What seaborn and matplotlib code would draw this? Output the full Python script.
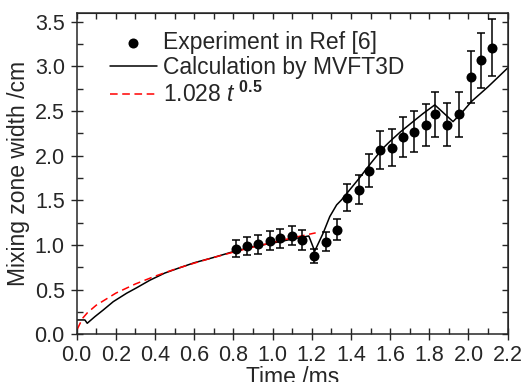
import numpy as np
import pandas as pd
import matplotlib
matplotlib.use("Agg")
import matplotlib.pyplot as plt
from matplotlib.ticker import MultipleLocator
import seaborn as sns

# Experimental data (Ref [6])
exp_t = [0.812, 0.870, 0.927, 0.985, 1.040, 1.099, 1.152, 1.210, 1.273, 1.331, 1.382, 1.441,
         1.491, 1.550, 1.611, 1.664, 1.724, 1.782, 1.831, 1.892, 1.952, 2.011, 2.062, 2.120]
exp_w = [0.955, 0.989, 1.007, 1.049, 1.075, 1.104, 1.056, 0.877, 1.034, 1.172, 1.530, 1.619,
         1.832, 2.060, 2.090, 2.205, 2.269, 2.343, 2.463, 2.347, 2.463, 2.877, 3.067, 3.209]
exp_err = [0.095, 0.100, 0.105, 0.107, 0.107, 0.110, 0.110, 0.080, 0.105, 0.120, 0.155, 0.165,
           0.180, 0.210, 0.210, 0.225, 0.230, 0.235, 0.250, 0.240, 0.250, 0.290, 0.310, 0.320]

# MVFT3D calculation
calc_t = [0.0, 0.042, 0.054, 0.093, 0.136, 0.187, 0.255, 0.306, 0.374, 0.45, 0.52, 0.60, 0.70,
          0.80, 0.90, 1.00, 1.10, 1.185, 1.215, 1.258, 1.292, 1.327, 1.352, 1.38, 1.44, 1.50,
          1.564, 1.60, 1.65, 1.717, 1.768, 1.828, 1.921, 1.964, 2.015, 2.10, 2.20]
calc_w = [0.16, 0.16, 0.123, 0.197, 0.272, 0.365, 0.459, 0.52, 0.605, 0.685, 0.74, 0.80, 0.86,
          0.925, 0.98, 1.02, 1.065, 1.10, 0.93, 1.131, 1.317, 1.448, 1.504, 1.58, 1.74, 1.91,
          2.083, 2.16, 2.26, 2.38, 2.47, 2.567, 2.38, 2.475, 2.605, 2.77, 2.98]

# 1.028 t^0.5 fit
fit_t = [0.003, 0.03, 0.055, 0.1, 0.2, 0.3, 0.4, 0.5, 0.6, 0.7, 0.8, 0.9, 1.0, 1.1, 1.22]
fit_w = [0.056, 0.178, 0.241, 0.325, 0.460, 0.563, 0.650, 0.727, 0.796, 0.860, 0.919, 0.975,
         1.028, 1.078, 1.135]

xticks = [0.0, 0.2, 0.4, 0.6, 0.8, 1.0, 1.2, 1.4, 1.6, 1.8, 2.0, 2.2]
yticks = [0.0, 0.5, 1.0, 1.5, 2.0, 2.5, 3.0, 3.5]

exp_df = pd.DataFrame({"t": exp_t, "w": exp_w, "err": exp_err})
calc_df = pd.DataFrame({"t": calc_t, "w": calc_w})
fit_df = pd.DataFrame({"t": fit_t, "w": fit_w})

sns.set_style("ticks")
plt.rcParams["font.family"] = ["Liberation Sans", "DejaVu Sans"]
plt.rcParams["mathtext.fontset"] = "custom"
plt.rcParams["mathtext.rm"] = "Liberation Sans"
plt.rcParams["mathtext.it"] = "Liberation Sans:italic"
plt.rcParams["mathtext.bf"] = "Liberation Sans:bold"

fig = plt.figure(figsize=(5.25, 3.82), dpi=100)
ax = fig.add_axes([0.146, 0.125, 0.821, 0.842])

ax.errorbar(exp_df["t"], exp_df["w"], yerr=exp_df["err"], fmt="none", ecolor="black",
            elinewidth=1.1, capsize=3.2, capthick=1.1, zorder=3)
sns.scatterplot(data=exp_df, x="t", y="w", ax=ax, color="black", s=52, edgecolor="black",
                linewidth=0, zorder=4, label="Experiment in Ref [6]")
sns.lineplot(data=calc_df, x="t", y="w", ax=ax, color="black", lw=1.1, sort=False,
             estimator=None, label="Calculation by MVFT3D", zorder=2)
sns.lineplot(data=fit_df, x="t", y="w", ax=ax, color="#ff0000", lw=1.1, sort=False,
             estimator=None, label=r"1.028 $\mathit{t}^{\ \mathbf{0.5}}$", zorder=2.5)
ax.lines[-1].set_dashes([5, 3])

ax.set_xlim(0, 2.2)
ax.set_ylim(0, 3.6)
ax.set_xticks(xticks)
ax.set_yticks(yticks)
ax.set_xticklabels([f"{v:.1f}" for v in xticks])
ax.set_yticklabels([f"{v:.1f}" for v in yticks])
ax.xaxis.set_minor_locator(MultipleLocator(0.1))
ax.yaxis.set_minor_locator(MultipleLocator(0.25))
ax.tick_params(which="major", direction="inout", length=9, width=1.0, labelsize=15.5)
ax.tick_params(axis="x", which="major", pad=3)
ax.tick_params(axis="y", which="major", pad=4)
ax.tick_params(which="minor", direction="in", length=4, width=1.0)

for s in ax.spines.values():
    s.set_linewidth(1.1)
    s.set_visible(True)

secx = ax.secondary_xaxis("top")
secx.set_xticks(np.arange(0, 2.21, 0.1))
secx.tick_params(direction="in", length=4, width=1.0, labeltop=False)
secx.set_xticklabels([])
secy = ax.secondary_yaxis("right")
secy.set_yticks(np.arange(0, 3.51, 0.25))
secy.tick_params(direction="in", length=4, width=1.0, labelright=False)
secy.set_yticklabels([])

ax.set_xlabel("Time /ms", fontsize=16.5, labelpad=0)
ax.set_ylabel("Mixing zone width /cm", fontsize=16.5, labelpad=3)

leg = ax.legend(loc="upper left", frameon=False, fontsize=16.5, handlelength=2.05,
                labelspacing=0.1, handletextpad=0.25, borderpad=0.3, borderaxespad=0.0,
                bbox_to_anchor=(0.061, 0.965))

fig.savefig("out.png", dpi=100)
